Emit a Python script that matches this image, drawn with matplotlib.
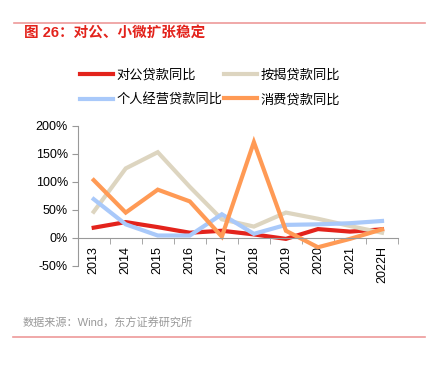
import matplotlib
matplotlib.use('Agg')
import matplotlib.pyplot as plt
from matplotlib.lines import Line2D
import numpy as np

plt.rcParams['font.family'] = ['Liberation Sans', 'Noto Sans CJK SC']
plt.rcParams['axes.unicode_minus'] = False

years = ['2013', '2014', '2015', '2016', '2017', '2018', '2019', '2020', '2021', '2022H']
corporate = [18, 28, 19, 9, 12.5, 6, -2, 15.5, 11, 15]
mortgage = [46.5, 124, 153, 91, 33, 20, 45, 34, 21, 9]
business = [69, 24, 4, 4, 42, 7, 23, 24, 26, 30]
consumer = [103, 45, 86, 65, 2, 171, 12.5, -17, -2, 15]

series = [
    ('对公贷款同比', corporate, '#E3231C'),
    ('按揭贷款同比', mortgage, '#DDD5C0'),
    ('个人经营贷款同比', business, '#A9C9FA'),
    ('消费贷款同比', consumer, '#FF9A55'),
]

fig = plt.figure(figsize=(4.28, 3.66), dpi=100)
ax = fig.add_axes([0.1815, 0.274, 0.7485, 0.382])

x = np.arange(len(years))
handles = {}
for name, vals, color in series:
    h, = ax.plot(x, vals, color=color, lw=3, solid_joinstyle='miter', label=name)
    handles[name] = h

ax.set_xlim(-0.5, len(years) - 0.5)
ax.set_ylim(-50, 200)
ax.set_yticks([-50, 0, 50, 100, 150, 200])
ax.set_yticklabels([f'{v}%' for v in [-50, 0, 50, 100, 150, 200]], fontsize=9)

ax.spines['top'].set_visible(False)
ax.spines['right'].set_visible(False)
ax.spines['bottom'].set_position(('data', 0))
ax.spines['left'].set_color('#999999')
ax.spines['bottom'].set_color('#999999')
ax.tick_params(axis='y', length=4, color='#999999', pad=3)

ax.set_xticks(x)
ax.set_xticklabels(years, rotation=90, fontsize=9, va='top')
ax.set_xticks(np.arange(len(years) + 1) - 0.5, minor=True)
ax.tick_params(axis='x', which='major', length=0, pad=6)
ax.tick_params(axis='x', which='minor', length=4, color='#999999')

order = ['对公贷款同比', '个人经营贷款同比', '按揭贷款同比', '消费贷款同比']
fig.legend([handles[n] for n in order], order, ncol=2, frameon=False,
           loc='upper left', bbox_to_anchor=(80 / 428, 1 - 69 / 366),
           fontsize=9.5, handlelength=2.5, handletextpad=0.25,
           columnspacing=0.15, labelspacing=0.9, borderpad=0, borderaxespad=0)

# header / footer decoration
fig.add_artist(Line2D([14 / 428, 425 / 428], [1 - 22.7 / 366] * 2,
                      color='#EE9A9A', lw=1.2, transform=fig.transFigure))
fig.add_artist(Line2D([13 / 428, 425 / 428], [1 - 337 / 366] * 2,
                      color='#EE9A9A', lw=1.2, transform=fig.transFigure))
fig.text(24 / 428, 1 - 34 / 366, '图 26：对公、小微扩张稳定', color='#E3231C',
         fontsize=10.5, fontweight='bold', va='center', ha='left')
fig.text(23 / 428, 1 - 323 / 366, '数据来源：Wind，东方证券研究所', color='#999999',
         fontsize=8, va='center', ha='left')

fig.savefig('out.png', dpi=100, facecolor='white')
